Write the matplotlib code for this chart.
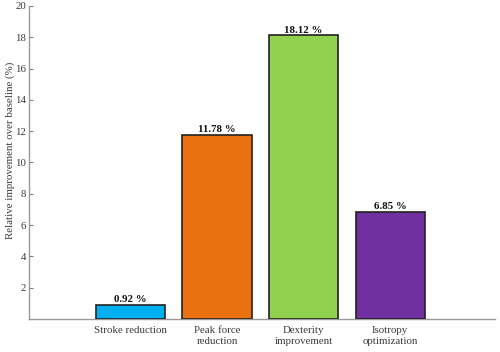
import matplotlib
matplotlib.use("Agg")
import matplotlib.pyplot as plt

categories = ["Stroke reduction", "Peak force\nreduction", "Dexterity\nimprovement", "Isotropy\noptimization"]
values = [0.92, 11.78, 18.12, 6.85]
colors = ["#00B0F0", "#E97110", "#92D050", "#7030A0"]
yticks = [2, 4, 6, 8, 10, 12, 14, 16, 18, 20]

plt.rcParams['font.family'] = ['Liberation Serif', 'DejaVu Serif']

fig = plt.figure(figsize=(5, 3.52), dpi=100)
ax = fig.add_axes([0.058, 0.094, 0.932, 0.889])
pos = [1, 2, 3, 4]
ax.bar(pos, values, width=0.8, color=colors, edgecolor="#222222", linewidth=1.2, zorder=3)
for p, v in zip(pos, values):
    ax.text(p, v + 0.05, f"{v:.2f} %", ha="center", va="bottom", fontsize=7.8, fontweight="bold", color="#111111")

ax.set_xlim(-0.17, 5.21)
ax.set_ylim(0, 20)
ax.set_yticks(yticks)
ax.set_xticks(pos)
ax.set_xticklabels(categories, fontsize=7.8, color="#3a3a3a", linespacing=1.35)
ax.tick_params(axis="y", direction="in", length=3, labelsize=7.8, colors="#808080", labelcolor="#3a3a3a", pad=2)
ax.tick_params(axis="x", length=0, pad=5)
for s in ["top", "right"]:
    ax.spines[s].set_visible(False)
for s in ["left", "bottom"]:
    ax.spines[s].set_color("#999999")
    ax.spines[s].set_linewidth(1.0)
ax.set_ylabel("Relative improvement over baseline (%)", fontsize=7.8, color="#3a3a3a", labelpad=2)
ax.yaxis.set_label_coords(-0.030, 0.54)
fig.savefig("out.png", dpi=100)
